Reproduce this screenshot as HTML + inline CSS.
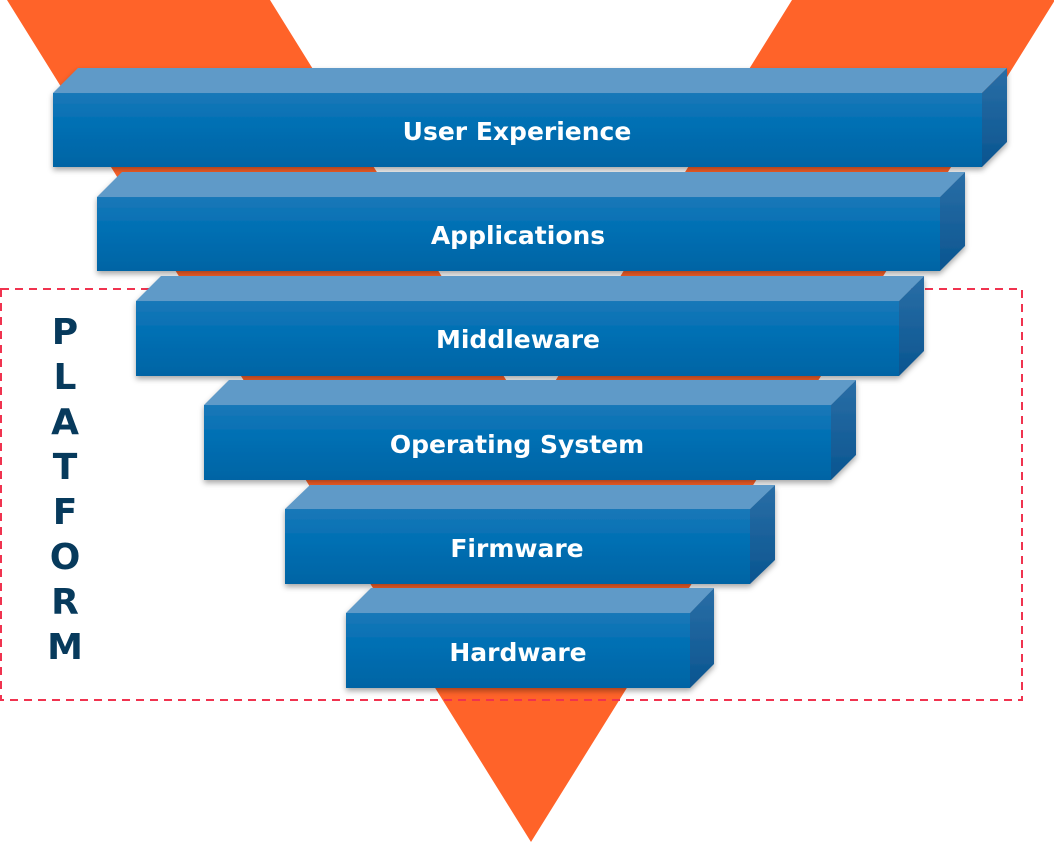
<!DOCTYPE html>
<html><head><meta charset="utf-8"><style>
html,body{margin:0;padding:0;background:#fff;width:1054px;height:843px;overflow:hidden}
svg{display:block}
</style></head><body>
<svg width="1054" height="843" viewBox="0 0 1054 843" xmlns="http://www.w3.org/2000/svg">
<defs>
<linearGradient id="fr" x1="0" y1="0" x2="0" y2="1">
<stop offset="0" stop-color="#1a78b8"/><stop offset="0.4" stop-color="#0270b4"/><stop offset="1" stop-color="#0564a4"/></linearGradient>
<linearGradient id="rs" x1="0" y1="0" x2="0" y2="1">
<stop offset="0" stop-color="#2a6ea6"/><stop offset="1" stop-color="#0a5590"/></linearGradient>
<filter id="sh" x="-5%" y="-20%" width="110%" height="150%"><feDropShadow dx="0" dy="3" stdDeviation="3" flood-color="#000" flood-opacity="0.35"/></filter>
</defs>
<polygon points="7,0 270,0 531,420 792,0 1055,0 531,842" fill="#ff6329"/>
<rect x="1" y="289" width="1021" height="411" fill="none" stroke="#f0334f" stroke-width="2" stroke-dasharray="8,6"/>
<g font-family="DejaVu Sans, Liberation Sans, sans-serif" font-weight="bold" font-size="25" fill="#fff" text-anchor="middle">
<g filter="url(#sh)">
<polygon points="53,93 78,68 1007,68 982,93" fill="#5f9ac8"/>
<polygon points="982,93 1007,68 1007,142 982,167" fill="url(#rs)"/>
<rect x="53" y="93" width="929" height="74" fill="url(#fr)"/>
</g>
<text x="517" y="140">User Experience</text>
<g filter="url(#sh)">
<polygon points="97,197 122,172 965,172 940,197" fill="#5f9ac8"/>
<polygon points="940,197 965,172 965,246 940,271" fill="url(#rs)"/>
<rect x="97" y="197" width="843" height="74" fill="url(#fr)"/>
</g>
<text x="518" y="244">Applications</text>
<g filter="url(#sh)">
<polygon points="136,301 161,276 924,276 899,301" fill="#5f9ac8"/>
<polygon points="899,301 924,276 924,351 899,376" fill="url(#rs)"/>
<rect x="136" y="301" width="763" height="75" fill="url(#fr)"/>
</g>
<text x="518" y="348">Middleware</text>
<g filter="url(#sh)">
<polygon points="204,405 229,380 856,380 831,405" fill="#5f9ac8"/>
<polygon points="831,405 856,380 856,455 831,480" fill="url(#rs)"/>
<rect x="204" y="405" width="627" height="75" fill="url(#fr)"/>
</g>
<text x="517" y="453">Operating System</text>
<g filter="url(#sh)">
<polygon points="285,509 310,485 775,485 750,509" fill="#5f9ac8"/>
<polygon points="750,509 775,485 775,560 750,584" fill="url(#rs)"/>
<rect x="285" y="509" width="465" height="75" fill="url(#fr)"/>
</g>
<text x="517" y="557">Firmware</text>
<g filter="url(#sh)">
<polygon points="346,613 371,588 714,588 690,613" fill="#5f9ac8"/>
<polygon points="690,613 714,588 714,664 690,688" fill="url(#rs)"/>
<rect x="346" y="613" width="344" height="75" fill="url(#fr)"/>
</g>
<text x="518" y="661">Hardware</text>
</g>
<g font-family="DejaVu Sans, Liberation Sans, sans-serif" font-weight="bold" font-size="36" fill="#073a5c" text-anchor="middle">
<text x="65" y="344">P</text>
<text x="65" y="389">L</text>
<text x="65" y="434">A</text>
<text x="65" y="479">T</text>
<text x="65" y="524">F</text>
<text x="65" y="569">O</text>
<text x="65" y="614">R</text>
<text x="65" y="659">M</text>
</g>
</svg>
</body></html>
